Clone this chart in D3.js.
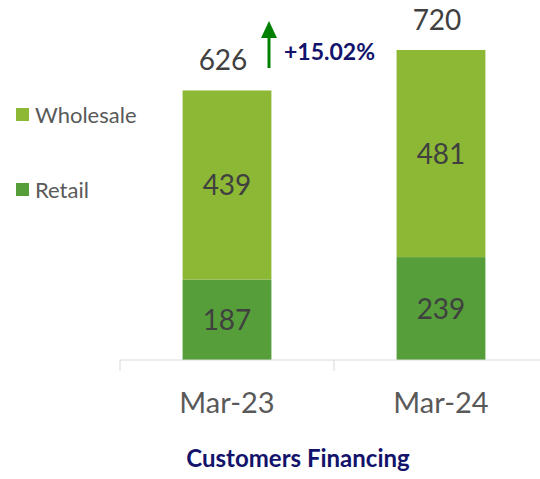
<!DOCTYPE html>
<html>
<head>
<meta charset="utf-8">
<script src="https://cdn.jsdelivr.net/npm/d3@7"></script>
<style>
  body { margin: 0; background: #fff; }
  svg { display: block; font-family: Lato, "Open Sans", sans-serif; }
</style>
</head>
<body>
<svg id="chart" width="540" height="479"></svg>
<script>
// chart data
const categories = ["Mar-23", "Mar-24"];
const retail = [187, 239];
const wholesale = [439, 481];
const totals = [626, 720];
const growthLabel = "+15.02%";
const seriesNames = ["Wholesale", "Retail"];

const colors = { Wholesale: "#8cb835", Retail: "#559e3a" };

const svg = d3.select("#chart");

// Scales
const x = d3.scaleBand().domain(categories).range([120, 548]).padding(0);
const y = d3.scaleLinear().domain([0, 720]).range([360, 50]);
const barW = x.bandwidth() * 0.415;

const rows = categories.map((c, i) => ({
  cat: c, Retail: retail[i], Wholesale: wholesale[i], total: totals[i]
}));
const stacked = d3.stack().keys(["Retail", "Wholesale"])(rows);

// Bars
stacked.forEach(layer => {
  svg.append("g").selectAll("rect")
    .data(layer)
    .enter()
    .append("rect")
    .attr("x", d => x(d.data.cat) + (x.bandwidth() - barW) / 2)
    .attr("width", barW)
    .attr("y", d => y(d[1]))
    .attr("height", d => y(d[0]) - y(d[1]))
    .attr("fill", colors[layer.key]);

  // value labels inside segments
  svg.append("g").selectAll("text")
    .data(layer)
    .enter()
    .append("text")
    .attr("x", d => x(d.data.cat) + x.bandwidth() / 2)
    .attr("y", d => (y(d[0]) + y(d[1])) / 2 + 10)
    .attr("text-anchor", "middle")
    .style("font-size", "28px")
    .style("fill", "#404040")
    .text(d => d.data[layer.key]);
});

// Totals above bars
svg.append("g").selectAll("text")
  .data(rows)
  .enter()
  .append("text")
  .attr("x", d => x(d.cat) + x.bandwidth() / 2 - 4)
  .attr("y", d => y(d.total) - 20)
  .attr("text-anchor", "middle")
  .style("font-size", "28px")
  .style("fill", "#404040")
  .text(d => d.total);

// X axis
const axis = svg.append("g")
  .attr("transform", `translate(0,${y(0)})`)
  .call(d3.axisBottom(x).tickSize(0).tickPadding(32));
axis.select(".domain").attr("stroke", "#d9d9d9").attr("d", "M120,0H548");
axis.selectAll("text")
  .style("font-size", "29px")
  .style("fill", "#595959")
  .style("font-family", "Lato, sans-serif");
// category boundary ticks
axis.selectAll(".sep")
  .data([x.range()[0], x(categories[1]), x.range()[1]])
  .enter()
  .append("line")
  .attr("x1", d => d).attr("x2", d => d)
  .attr("y1", 0).attr("y2", 11)
  .attr("stroke", "#d9d9d9");

// Legend
const legend = svg.append("g");
seriesNames.forEach((name, i) => {
  const ly = 108 + i * 75;
  legend.append("rect")
    .attr("x", 16).attr("y", ly)
    .attr("width", 13).attr("height", 13)
    .attr("fill", colors[name]);
  legend.append("text")
    .attr("x", 35).attr("y", ly + 15)
    .style("font-size", "22px")
    .style("fill", "#595959")
    .text(name);
});

// Growth arrow
const ax = 269;
svg.append("line")
  .attr("x1", ax).attr("x2", ax)
  .attr("y1", 68).attr("y2", 36)
  .attr("stroke", "#008000")
  .attr("stroke-width", 3);
svg.append("path")
  .attr("d", `M${ax - 8},38 L${ax},21 L${ax + 8},38 Z`)
  .attr("fill", "#008000");

svg.append("text")
  .attr("x", 284).attr("y", 60)
  .style("font-size", "23px")
  .style("font-weight", "bold")
  .style("fill", "#13136b")
  .text(growthLabel);

// Title
svg.append("text")
  .attr("x", 298).attr("y", 467)
  .attr("text-anchor", "middle")
  .style("font-size", "24px")
  .style("font-weight", "bold")
  .style("fill", "#13136b")
  .text("Customers Financing");
</script>
</body>
</html>
